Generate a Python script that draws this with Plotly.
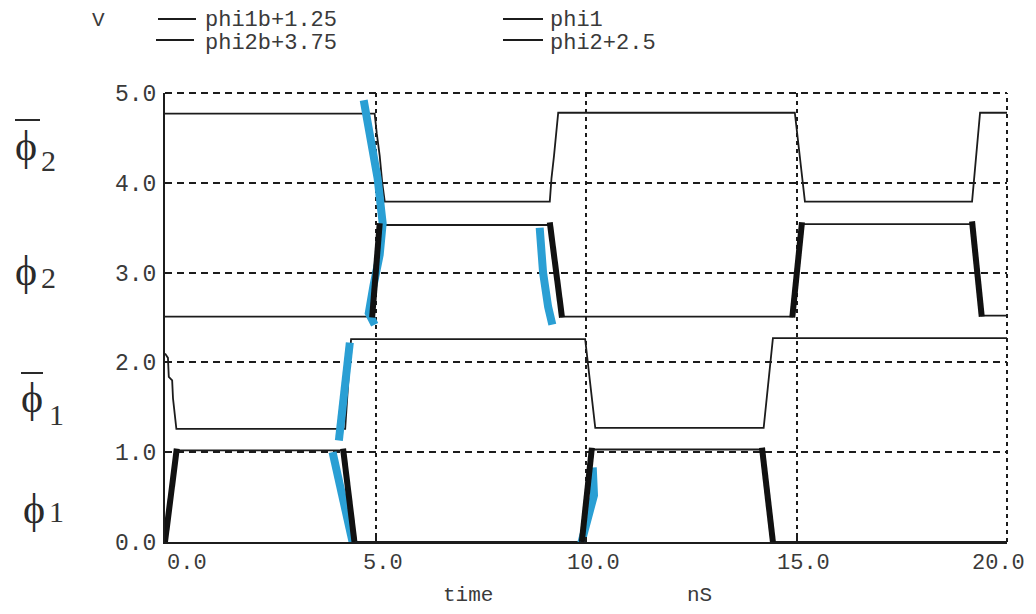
import plotly.graph_objects as go

# ---------------- data (time in nS, voltage in V) ----------------
series_names = ["phi1b+1.25", "phi1", "phi2b+3.75", "phi2+2.5"]

t_phi1 = [0.0, 0.28, 4.23, 4.50, 9.90, 10.14, 14.18, 14.44, 20.0]
v_phi1 = [0.0, 1.02, 1.02, 0.0, 0.0, 1.03, 1.03, 0.0, 0.0]

t_phi1b = [0.0, 0.07, 0.09, 0.17, 0.19, 0.27, 4.28, 4.32, 4.37, 4.42,
           9.98, 10.04, 10.10, 10.16, 10.22, 14.22, 14.28, 14.34, 14.40, 14.44, 20.0]
v_phi1b = [2.10, 2.05, 1.84, 1.80, 1.60, 1.26, 1.26, 1.55, 1.90, 2.26,
           2.26, 2.00, 1.75, 1.50, 1.27, 1.27, 1.55, 1.80, 2.05, 2.27, 2.27]

t_phi2 = [0.0, 4.92, 5.10, 9.14, 9.43, 14.90, 15.13, 19.17, 19.40, 20.0]
v_phi2 = [2.51, 2.51, 3.53, 3.53, 2.51, 2.51, 3.54, 3.54, 2.52, 2.52]

t_phi2b = [0.0, 4.98, 5.03, 5.10, 5.16, 5.22, 9.14, 9.18, 9.24, 9.30, 9.34,
           14.96, 15.02, 15.08, 15.14, 15.20, 19.17, 19.22, 19.28, 19.32, 19.36, 20.0]
v_phi2b = [4.77, 4.77, 4.55, 4.30, 4.00, 3.79, 3.79, 4.05, 4.30, 4.60, 4.78,
           4.78, 4.55, 4.30, 4.05, 3.79, 3.79, 4.05, 4.30, 4.60, 4.78, 4.78]

# hand-drawn black highlight strokes on the phi1 / phi2 edges (None separates strokes)
mark_black_t = [0.0, 0.28, None, 4.23, 4.50, None, 9.90, 10.14, None, 14.18, 14.44, None,
                4.92, 5.10, None, 9.14, 9.43, None, 14.90, 15.13, None, 19.17, 19.40]
mark_black_v = [0.0, 1.04, None, 1.04, 0.0, None, 0.0, 1.05, None, 1.05, 0.0, None,
                2.50, 3.55, None, 3.56, 2.50, None, 2.50, 3.56, None, 3.57, 2.51]

# hand-drawn blue highlight strokes
mark_blue_t = [4.72, 4.90, 5.05, 5.17, 5.10, 4.95, 4.84, 4.98, None,
               8.90, 8.98, 9.10, 9.20, None,
               4.13, 4.22, 4.32, 4.39, None,
               3.98, 4.20, 4.46, None,
               9.86, 10.05, 10.19, 10.16]
mark_blue_v = [4.92, 4.50, 4.05, 3.55, 3.20, 2.85, 2.55, 2.42, None,
               3.50, 3.00, 2.62, 2.42, None,
               1.13, 1.50, 2.00, 2.22, None,
               1.00, 0.50, -0.01, None,
               -0.06, 0.25, 0.52, 0.83]

x_ticks = [0, 5, 10, 15, 20]
x_ticktext = ["0.0", "5.0", "10.0", "15.0", "20.0"]
y_ticks = [0, 1, 2, 3, 4, 5]
y_ticktext = ["0.0", "1.0", "2.0", "3.0", "4.0", "5.0"]

# ---------------- layout helpers (page pixel coordinates) ----------------
W, H = 1036, 614
OFF = 8                      # default page body margin
L, R, T, B = 165, 1007, 93, 542
FIG_W, FIG_H = W - OFF, H - 2 * OFF


def px_x(px):
    return (px - L) / (R - L)


def px_y(py):
    return (B - py) / (B - T)


MONO = "Liberation Mono, Courier New, monospace"
SERIF = "Liberation Serif, DejaVu Serif, serif"
INK = "#1c1c1c"
TXT = "#3a3a3a"

fig = go.Figure()

signals = [(t_phi1b, v_phi1b), (t_phi1, v_phi1), (t_phi2b, v_phi2b), (t_phi2, v_phi2)]
for name, (tt, vv) in zip(series_names, signals):
    fig.add_trace(go.Scatter(x=tt, y=vv, mode="lines", name=name,
                             line=dict(color=INK, width=1.8), showlegend=False))

fig.add_trace(go.Scatter(x=mark_blue_t, y=mark_blue_v, mode="lines", name="blue marks",
                         line=dict(color="#2a9fd4", width=8), showlegend=False,
                         connectgaps=False))
fig.add_trace(go.Scatter(x=mark_black_t, y=mark_black_v, mode="lines", name="black marks",
                         line=dict(color="#111111", width=6), showlegend=False,
                         connectgaps=False))

shapes = [
    # top frame (dashed) and right frame (dotted)
    dict(type="line", xref="paper", yref="paper", x0=0, x1=1, y0=1, y1=1,
         line=dict(color=INK, width=2, dash="7px,5px")),
    dict(type="line", xref="paper", yref="paper", x0=1, x1=1, y0=0, y1=1,
         line=dict(color=INK, width=2, dash="4px,4px")),
]

annotations = []

# x tick labels (placed like the original: first left-aligned, last right-aligned)
for i, (tv, tt) in enumerate(zip(x_ticks, x_ticktext)):
    if i == 0:
        anchor, shift = "left", 0
    elif i == len(x_ticks) - 1:
        anchor, shift = "right", 20
    else:
        anchor, shift = "center", 7
    annotations.append(dict(text=tt, xref="x", yref="paper", x=tv, y=px_y(563),
                            xanchor=anchor, yanchor="middle", xshift=shift, showarrow=False,
                            font=dict(family=MONO, size=22, color=TXT)))

# manual legend
legend_slots = [(158, 196, 203, 19, 20), (503, 543, 548, 19, 20),
                (156, 194, 203, 40, 44), (503, 543, 548, 40, 44)]
for name, (x0, x1, xt, yl, yt) in zip(series_names, legend_slots):
    shapes.append(dict(type="line", xref="paper", yref="paper",
                       x0=px_x(x0), x1=px_x(x1), y0=px_y(yl), y1=px_y(yl),
                       line=dict(color=INK, width=2)))
    annotations.append(dict(text=name, xref="paper", yref="paper", x=px_x(xt), y=px_y(yt),
                            xanchor="left", yanchor="middle", showarrow=False,
                            font=dict(family=MONO, size=22, color=TXT)))

annotations.append(dict(text="V", xref="paper", yref="paper", x=px_x(98), y=px_y(20),
                        xanchor="center", yanchor="middle", showarrow=False,
                        font=dict(family=MONO, size=21, color=TXT)))
annotations.append(dict(text="time", xref="paper", yref="paper", x=px_x(468), y=px_y(595),
                        xanchor="center", yanchor="middle", showarrow=False,
                        font=dict(family=MONO, size=21, color=TXT)))
annotations.append(dict(text="nS", xref="paper", yref="paper", x=px_x(699), y=px_y(595),
                        xanchor="center", yanchor="middle", showarrow=False,
                        font=dict(family=MONO, size=21, color=TXT)))

# greek signal labels on the left
greek = [
    # (subscript, phi centre x, phi centre y, sub centre x, sub centre y, overline?)
    ("2", 26, 146, 48, 160, (15, 40, 120)),
    ("2", 26, 271, 48, 277, None),
    ("1", 32, 398, 56, 414, (21, 43, 373)),
    ("1", 34, 509, 57, 511, None),
]
for sub, fx, fy, sx, sy, ov in greek:
    annotations.append(dict(text="ϕ", xref="paper", yref="paper", x=px_x(fx), y=px_y(fy),
                            xanchor="center", yanchor="middle", showarrow=False,
                            font=dict(family=SERIF, size=42, color="#2a2a2a")))
    annotations.append(dict(text=sub, xref="paper", yref="paper", x=px_x(sx), y=px_y(sy),
                            xanchor="center", yanchor="middle", showarrow=False,
                            font=dict(family=SERIF, size=30, color="#333333")))
    if ov:
        shapes.append(dict(type="line", xref="paper", yref="paper",
                           x0=px_x(ov[0]), x1=px_x(ov[1]), y0=px_y(ov[2]), y1=px_y(ov[2]),
                           line=dict(color="#2a2a2a", width=2)))

fig.update_layout(
    width=FIG_W, height=FIG_H,
    margin=dict(l=L - OFF, r=(FIG_W + OFF) - R, t=T - OFF, b=(FIG_H + OFF) - B,
                pad=0, autoexpand=False),
    paper_bgcolor="white", plot_bgcolor="white",
    shapes=shapes, annotations=annotations,
    showlegend=False,
)

fig.update_xaxes(
    range=[0, 20], tickvals=x_ticks, ticktext=x_ticktext, automargin=False,
    showticklabels=False,
    showline=True, linecolor=INK, linewidth=2,
    ticks="inside", ticklen=5, tickwidth=1.5, tickcolor=INK,
    showgrid=True, gridcolor=INK, gridwidth=2, griddash="4px,4px",
    zeroline=False,
)
fig.update_yaxes(
    range=[0, 5], tickvals=y_ticks, ticktext=y_ticktext, automargin=False,
    showline=True, linecolor=INK, linewidth=2,
    ticks="inside", ticklen=5, tickwidth=1.5, tickcolor=INK,
    showgrid=True, gridcolor=INK, gridwidth=2, griddash="7px,5px",
    zeroline=False, ticklabelstandoff=2,
    tickfont=dict(family=MONO, size=23, color=TXT),
)

fig.write_html("out.html")
